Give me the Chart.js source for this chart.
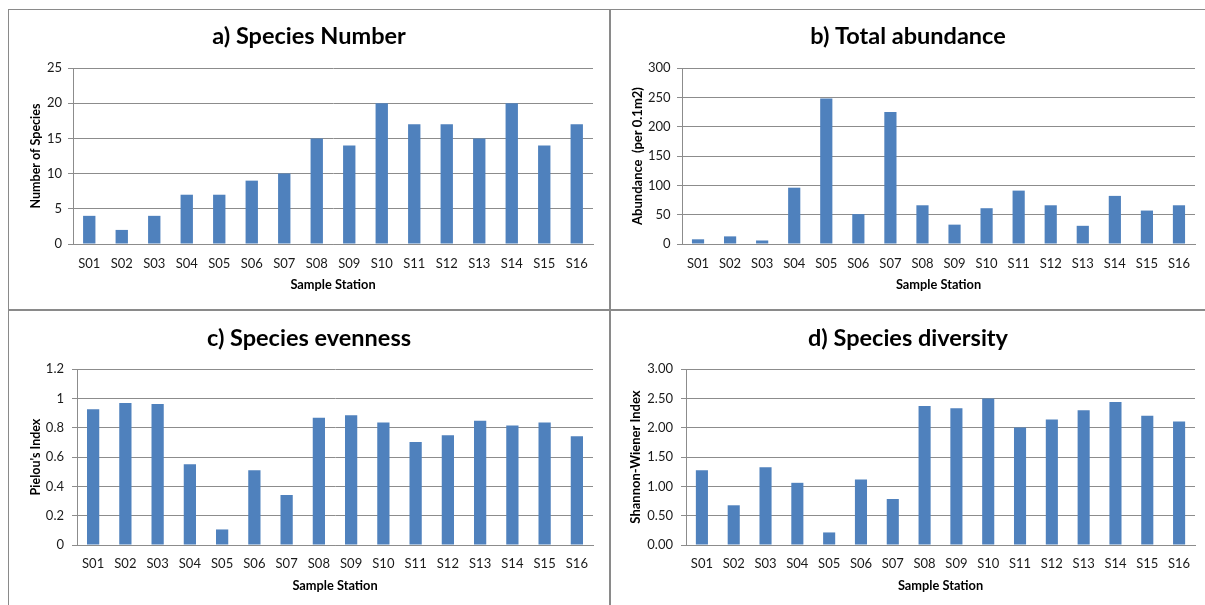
<!DOCTYPE html>
<html>
<head>
<meta charset="utf-8">
<script src="https://cdn.jsdelivr.net/npm/chart.js@4.4.1/dist/chart.umd.min.js"></script>
<style>
  html, body { margin: 0; padding: 0; background: #fff; width: 1205px; height: 605px; overflow: hidden; position: relative; }
  canvas { position: absolute; }
  .rule { position: absolute; background: #8a8a8a; }
</style>
</head>
<body>
<div class="rule" style="left:8px;top:9px;width:1197px;height:1px"></div>
<div class="rule" style="left:8px;top:9px;width:1px;height:596px"></div>
<div class="rule" style="left:609px;top:9px;width:2px;height:596px"></div>
<div class="rule" style="left:8px;top:309px;width:1197px;height:2px"></div>

<canvas id="panelA" width="600" height="299" style="left:9px;top:10px"></canvas>
<canvas id="panelB" width="594" height="299" style="left:611px;top:10px"></canvas>
<canvas id="panelC" width="600" height="294" style="left:9px;top:311px"></canvas>
<canvas id="panelD" width="594" height="294" style="left:611px;top:311px"></canvas>

<script>
// Sampling stations along the transect
const stations = ['S01','S02','S03','S04','S05','S06','S07','S08','S09','S10','S11','S12','S13','S14','S15','S16'];

// Benthic community metrics per station
const speciesNumber    = [4, 2, 4, 7, 7, 9, 10, 15, 14, 20, 17, 17, 15, 20, 14, 17];
const totalAbundance   = [8, 13, 6, 96, 248, 51, 225, 66, 33, 61, 91, 66, 31, 82, 57, 66];
const pielouEvenness   = [0.925, 0.968, 0.961, 0.550, 0.106, 0.510, 0.341, 0.868, 0.884, 0.835, 0.702, 0.749, 0.848, 0.814, 0.835, 0.742];
const shannonDiversity = [1.275, 0.677, 1.325, 1.060, 0.214, 1.117, 0.784, 2.369, 2.329, 2.499, 2.002, 2.138, 2.296, 2.437, 2.205, 2.104];

// Value-axis tick marks for each panel
const speciesTicks   = [0, 5, 10, 15, 20, 25];
const abundanceTicks = [0, 50, 100, 150, 200, 250, 300];
const evennessTicks  = [0, 0.2, 0.4, 0.6, 0.8, 1, 1.2];
const diversityTicks = [0, 0.5, 1, 1.5, 2, 2.5, 3];

const BAR = '#4f81bd';
const GRID = '#8c8c8c';
const FONT = 'Lato, "Open Sans", sans-serif';

Chart.defaults.font.family = FONT;
Chart.defaults.color = '#1a1a1a';

function panel(id, o) {
  const ticks = o.ticks;
  new Chart(document.getElementById(id), {
    type: 'bar',
    data: {
      labels: stations,
      datasets: [{
        data: o.values,
        backgroundColor: BAR,
        borderWidth: 0,
        barPercentage: 0.38,
        categoryPercentage: 1
      }]
    },
    options: {
      responsive: false,
      animation: false,
      events: [],
      layout: { padding: { left: o.side, right: o.side, top: 0, bottom: 0 } },
      plugins: {
        legend: { display: false },
        tooltip: { enabled: false },
        title: {
          display: true,
          text: o.title,
          color: '#000',
          font: { family: FONT, size: 23.5, weight: 'bold', lineHeight: 1.2 },
          padding: { top: o.titleTop, bottom: o.titleBottom }
        }
      },
      scales: {
        x: {
          grid: { display: false },
          border: { display: true, color: GRID, width: 1 },
          ticks: { padding: o.xTickPad, font: { size: 13 }, maxRotation: 0, autoSkip: false },
          title: {
            display: true,
            text: 'Sample Station',
            color: '#000',
            font: { size: 12.8, weight: 'bold', lineHeight: 1.2 },
            padding: { top: 0, bottom: o.xTitlePad }
          },
          afterFit: s => { s.height = o.xHeight; }
        },
        y: {
          min: ticks[0],
          max: ticks[ticks.length - 1],
          grid: { color: GRID, lineWidth: 1, drawTicks: true, tickLength: 5, tickColor: GRID },
          border: { display: true, color: GRID, width: 1 },
          ticks: {
            stepSize: ticks[1] - ticks[0],
            padding: o.yTickPad,
            font: { size: 13 },
            callback: v => o.fmt(v)
          },
          title: {
            display: true,
            text: o.yTitle,
            color: '#000',
            font: { size: o.yTitleSize, weight: 'bold', lineHeight: 1.2 },
            padding: { top: o.yTitlePad, bottom: 0 }
          },
          afterFit: s => { s.width = o.yWidth; }
        }
      }
    }
  });
}

const plain = v => String(Math.round(v));
const oneDec = v => String(Number(v.toFixed(1)));
const twoDec = v => v.toFixed(2);

panel('panelA', {
  title: 'a) Species Number', yTitle: 'Number of Species', values: speciesNumber, ticks: speciesTicks, fmt: plain,
  side: 16, yWidth: 48, xHeight: 65, titleTop: 12.5, titleBottom: 17.3,
  xTickPad: 4, xTitlePad: 16.3, yTickPad: 6, yTitlePad: 3.0, yTitleSize: 12.5
});
panel('panelB', {
  title: 'b) Total abundance', yTitle: 'Abundance  (per 0.1m2)', values: totalAbundance, ticks: abundanceTicks, fmt: plain,
  side: 10, yWidth: 61, xHeight: 65, titleTop: 12.5, titleBottom: 17.3,
  xTickPad: 4, xTitlePad: 16.3, yTickPad: 6.5, yTitlePad: 9.3, yTitleSize: 13
});
panel('panelC', {
  title: 'c) Species evenness', yTitle: "Pielou's Index", values: pielouEvenness, ticks: evennessTicks, fmt: oneDec,
  side: 16, yWidth: 52, xHeight: 60, titleTop: 12.9, titleBottom: 16.9,
  xTickPad: 3.5, xTitlePad: 11.3, yTickPad: 8, yTitlePad: 3.0, yTitleSize: 12.5
});
panel('panelD', {
  title: 'd) Species diversity', yTitle: 'Shannon-Wiener Index', values: shannonDiversity, ticks: diversityTicks, fmt: twoDec,
  side: 10, yWidth: 65, xHeight: 60, titleTop: 12.9, titleBottom: 16.9,
  xTickPad: 3.5, xTitlePad: 11.3, yTickPad: 8, yTitlePad: 7.4, yTitleSize: 13
});
</script>
</body>
</html>
